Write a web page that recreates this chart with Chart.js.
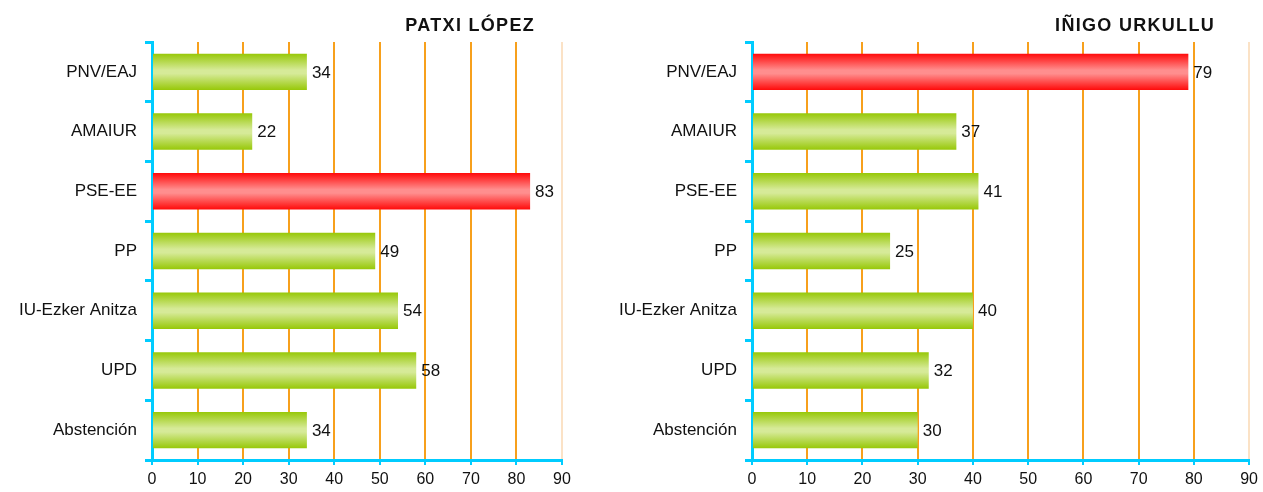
<!DOCTYPE html>
<html>
<head>
<meta charset="utf-8">
<script src="https://cdn.jsdelivr.net/npm/chart.js@4"></script>
<style>
  html, body { margin: 0; padding: 0; background: #fff; }
  #wrap { position: relative; width: 1263px; height: 492px; }
  #left { position: absolute; left: 0; top: 0; }
  #right { position: absolute; left: 600px; top: 0; }
</style>
</head>
<body>
<div id="wrap">
  <canvas id="left" width="600" height="492"></canvas>
  <canvas id="right" width="663" height="492"></canvas>
</div>
<script>
const parties = ["PNV/EAJ", "AMAIUR", "PSE-EE", "PP", "IU-Ezker Anitza", "UPD", "Abstención"];
const lopezValues = [34, 22, 83, 49, 54, 58, 34];
const urkulluValues = [79, 37, 41, 25, 40, 32, 30];
const xTicks = [0, 10, 20, 30, 40, 50, 60, 70, 80, 90];

const FONT = "'Liberation Sans', Arial, sans-serif";
const CYAN = "#00ccff";
const ORANGE = "#f7a01c";
const BAR_SHARE = 0.61;

// vertical gradient per bar, computed from the category scale
function barFill(c, highlight) {
    const red = c.dataIndex === highlight;
    const edge = red ? "#ff0a0a" : "#97c808";
    const mid = red ? "#ff8e8e" : "#d6ea98";
    const ys = c.chart.scales.y;
    if (!ys || c.dataIndex === undefined) return edge;
    const center = ys.getPixelForValue(c.dataIndex);
    const half = ys.height / parties.length * BAR_SHARE / 2;
    if (!isFinite(center) || !isFinite(half) || half <= 0) return edge;
    const g = c.chart.ctx.createLinearGradient(0, center - half, 0, center + half);
    g.addColorStop(0, edge);
    g.addColorStop(0.45, mid);
    g.addColorStop(0.55, mid);
    g.addColorStop(1, edge);
    return g;
}

const valueLabels = {
    id: "valueLabels",
    afterDatasetsDraw(chart) {
        const ctx = chart.ctx;
        const meta = chart.getDatasetMeta(0);
        const data = chart.data.datasets[0].data;
        ctx.save();
        ctx.font = "17px " + FONT;
        ctx.fillStyle = "#111";
        ctx.textAlign = "left";
        ctx.textBaseline = "middle";
        meta.data.forEach((el, i) => {
            ctx.fillText(data[i], el.x + 5, el.y + 1);
        });
        ctx.restore();
    }
};

const sideTitle = {
    id: "sideTitle",
    afterDraw(chart, args, opts) {
        const ctx = chart.ctx;
        ctx.save();
        ctx.font = "bold 18px " + FONT;
        ctx.letterSpacing = "1.3px";
        ctx.fillStyle = "#111";
        ctx.textAlign = "right";
        ctx.textBaseline = "middle";
        ctx.fillText(opts.text, opts.right, 26);
        ctx.restore();
    }
};

function makeChart(id, values, highlight, title, titleRight, rightPad) {
    return new Chart(document.getElementById(id), {
        type: "bar",
        data: {
            labels: parties,
            datasets: [{
                data: values,
                backgroundColor: c => barFill(c, highlight),
                borderWidth: 0,
                categoryPercentage: 1,
                barPercentage: BAR_SHARE
            }]
        },
        plugins: [valueLabels, sideTitle],
        options: {
            indexAxis: "y",
            responsive: false,
            animation: false,
            layout: { padding: { top: 42, right: rightPad, bottom: 0, left: 0 } },
            plugins: {
                legend: { display: false },
                tooltip: { enabled: false },
                sideTitle: { text: title, right: titleRight }
            },
            scales: {
                x: {
                    min: 0,
                    max: 90,
                    afterBuildTicks: s => { s.ticks = xTicks.map(v => ({ value: v })); },
                    afterFit: s => { s.height = 32; },
                    border: { display: true, color: CYAN, width: 3 },
                    grid: {
                        color: c => c.tick && c.tick.value === 90 ? "#fbe2c6" : (c.tick && c.tick.value === 0 ? "rgba(0,0,0,0)" : ORANGE),
                        lineWidth: 2,
                        tickColor: CYAN,
                        tickLength: 5,
                        drawTicks: true
                    },
                    ticks: {
                        color: "#111",
                        font: { family: FONT, size: 16 },
                        padding: 5,
                        maxRotation: 0
                    }
                },
                y: {
                    afterFit: s => { s.width = 152; },
                    border: { display: true, color: CYAN, width: 3 },
                    grid: {
                        offset: true,
                        drawOnChartArea: false,
                        drawTicks: true,
                        tickLength: 7,
                        color: CYAN,
                        lineWidth: 3
                    },
                    ticks: {
                        color: "#111",
                        font: { family: FONT, size: 17 },
                        padding: 8
                    }
                }
            }
        }
    });
}

makeChart("left", lopezValues, 2, "PATXI LÓPEZ", 535, 38);
makeChart("right", urkulluValues, 0, "IÑIGO URKULLU", 615, 10);
</script>
</body>
</html>
